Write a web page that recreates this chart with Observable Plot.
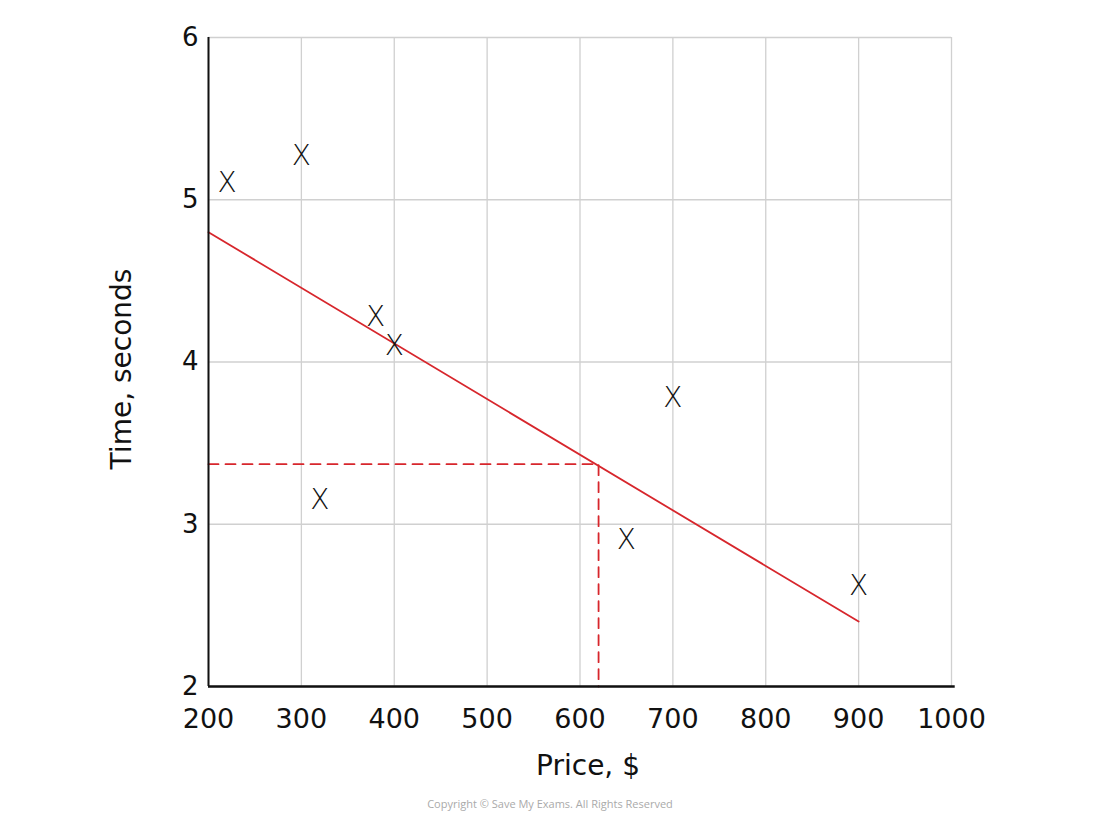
<!DOCTYPE html>
<html>
<head>
<meta charset="utf-8">
<script src="https://cdn.jsdelivr.net/npm/d3@7"></script>
<script src="https://cdn.jsdelivr.net/npm/@observablehq/plot@0.6"></script>
<style>
  html, body { margin: 0; padding: 0; background: #fff; }
  #chart { width: 1100px; }
  .caption { width: 1100px; text-align: center; font-family: "Open Sans", sans-serif; font-size: 11px; color: #aaa; margin-top: 6px; }
</style>
</head>
<body>
<div id="chart"></div>
<div class="caption">Copyright © Save My Exams. All Rights Reserved</div>
<script>
// Data points (Price $, Time seconds)
const prices = [220, 300, 380, 400, 320, 700, 650, 900];
const times  = [5.1, 5.27, 4.28, 4.1, 3.15, 3.78, 2.9, 2.62];

// Line of best fit end points
const fitPrice = [200, 900];
const fitTime  = [4.8, 2.4];

// Estimate (dashed) path
const estPrice = [200, 620, 620];
const estTime  = [3.37, 3.37, 2];

const xTicks = [200, 300, 400, 500, 600, 700, 800, 900, 1000];
const yTicks = [2, 3, 4, 5, 6];

const points = prices.map((p, i) => ({price: p, time: times[i]}));
const fit = fitPrice.map((p, i) => ({price: p, time: fitTime[i]}));
const est = estPrice.map((p, i) => ({price: p, time: estTime[i]}));

const font = "'DejaVu Sans', sans-serif";
const red = "#d7262c";

const chart = Plot.plot({
  width: 1100,
  height: 790,
  marginTop: 37,
  marginBottom: 104,
  marginLeft: 208,
  marginRight: 149,
  style: { fontFamily: font, background: "#fff", overflow: "visible" },
  x: { domain: [200, 1000], ticks: xTicks, label: null },
  y: { domain: [2, 6], ticks: yTicks, label: null },
  marks: [
    Plot.gridX(xTicks, { stroke: "#d0d0d0", strokeOpacity: 1, strokeWidth: 1.3 }),
    Plot.gridY(yTicks, { stroke: "#d0d0d0", strokeOpacity: 1, strokeWidth: 1.3 }),
    Plot.axisX(xTicks, { tickSize: 0, tickPadding: 22, fontSize: 27, fill: "#111", tickFormat: d => String(d) }),
    Plot.axisY(yTicks, { tickSize: 0, tickPadding: 10, fontSize: 26, fill: "#111", tickFormat: d => String(d) }),
    Plot.line(est, { x: "price", y: "time", stroke: red, strokeWidth: 1.8, strokeDasharray: "10,7" }),
    Plot.line(fit, { x: "price", y: "time", stroke: red, strokeWidth: 1.8 }),
    Plot.ruleX([200], { stroke: "#111", strokeWidth: 2 }),
    Plot.ruleY([2], { x1: 200, x2: 1004, stroke: "#111", strokeWidth: 2.5 }),
    Plot.text(points, { x: "price", y: "time", text: () => "X", fontSize: 28, fill: "#111", fontFamily: font, fontWeight: 300 }),
    Plot.text(["Price, $"], { frameAnchor: "bottom", dy: 88, dx: 8, fontSize: 28, fill: "#111" }),
    Plot.text(["Time, seconds"], { frameAnchor: "left", textAnchor: "middle", dx: -86, dy: 7, rotate: -90, fontSize: 28, fill: "#111" })
  ]
});
document.getElementById("chart").appendChild(chart);
</script>
</body>
</html>
